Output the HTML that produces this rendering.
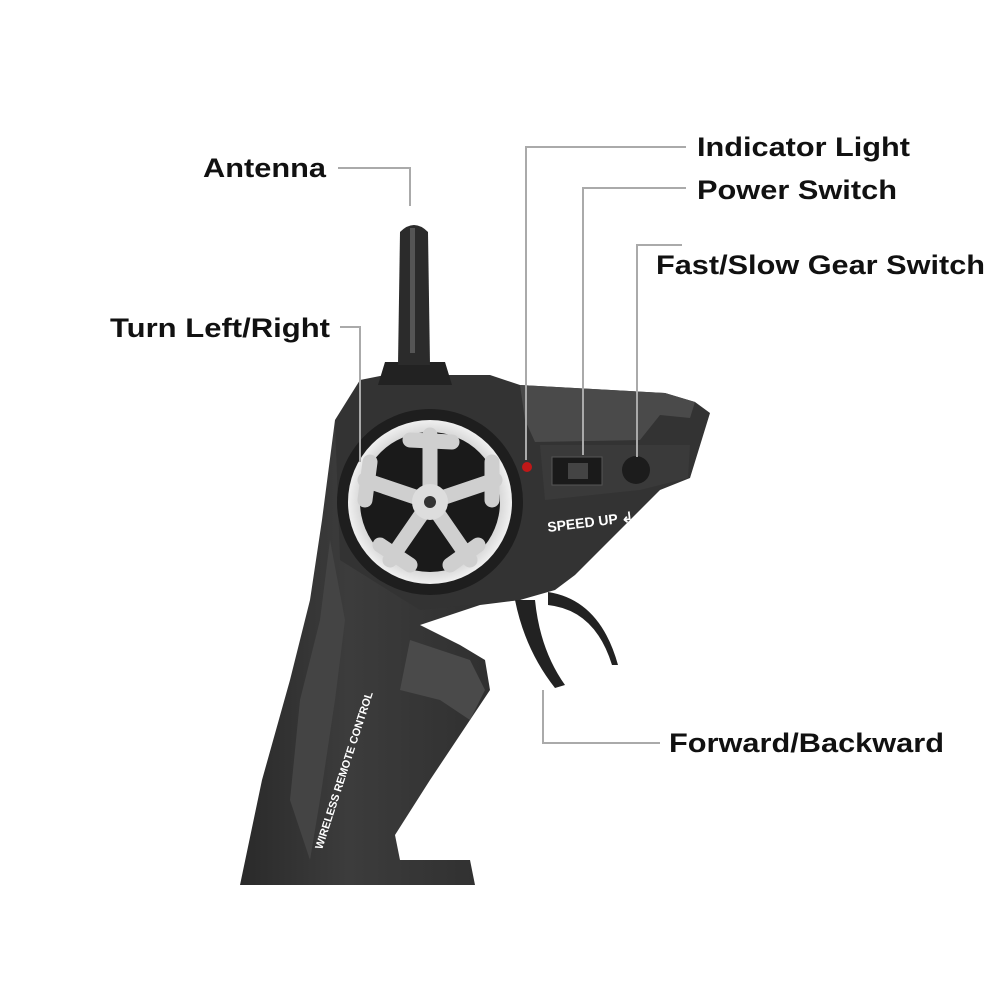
<!DOCTYPE html>
<html><head><style>html,body{margin:0;padding:0;background:#fff;width:1000px;height:1000px;overflow:hidden}</style></head>
<body>
<svg width="1000" height="1000" viewBox="0 0 1000 1000" xmlns="http://www.w3.org/2000/svg">
<defs>
<linearGradient id="g1" x1="0" y1="0" x2="1" y2="0">
<stop offset="0" stop-color="#2a2a2a"/><stop offset="0.3" stop-color="#3c3c3c"/><stop offset="1" stop-color="#262626"/>
</linearGradient>
<radialGradient id="rim" cx="0.5" cy="0.5" r="0.5">
<stop offset="0.85" stop-color="#d8d8d8"/><stop offset="1" stop-color="#f0f0f0"/>
</radialGradient>
</defs>
<!-- grip -->
<path d="M335,420 L322,520 L310,600 L290,680 L262,780 L240,885 L475,885 L470,860 L400,860 L395,835 L430,780 L470,720 L490,690 L485,660 L460,645 L420,625 L480,605 L520,600 L545,585 L560,560 L600,495 L335,420 Z" fill="url(#g1)"/>
<!-- top body -->
<path d="M335,420 L360,380 L385,375 L490,375 L520,385 L665,393 L695,402 L710,413 L690,478 L660,490 L645,505 L600,550 L575,575 L555,590 L520,600 L420,610 L340,560 Z" fill="#333"/>
<path d="M520,385 L665,393 L695,402 L690,418 L660,415 L640,440 L535,442 L525,420 Z" fill="#4a4a4a"/>
<path d="M540,445 L690,445 L688,478 L640,490 L545,500 Z" fill="#3a3a3a"/>
<!-- grip highlight -->
<path d="M410,640 L470,660 L485,690 L470,720 L440,700 L400,690 Z" fill="#4a4a4a"/>
<path d="M330,540 L320,620 L300,700 L290,800 L310,860 L320,800 L335,700 L345,620 Z" fill="#444"/>
<!-- antenna -->
<path d="M378,385 L385,362 L445,362 L452,385 Z" fill="#222"/>
<path d="M398,365 L400,232 Q414,218 428,232 L430,365 Z" fill="#2b2b2b"/>
<rect x="410" y="228" width="5" height="125" fill="#555"/>
<!-- wheel -->
<circle cx="430" cy="502" r="93" fill="#1e1e1e"/>
<circle cx="430" cy="502" r="82" fill="url(#rim)"/>
<circle cx="430" cy="502" r="70" fill="#1a1a1a"/>
<g stroke="#cfcfcf" stroke-width="15" stroke-linecap="round" fill="none">
<path d="M430,502 L430,435"/><path d="M430,502 L495,480"/><path d="M430,502 L470,560"/><path d="M430,502 L390,560"/><path d="M430,502 L365,480"/>
<path d="M410,440 L452,442"/><path d="M492,462 L492,500"/><path d="M478,545 L450,565"/><path d="M410,565 L380,545"/><path d="M365,500 L370,462"/>
</g>
<circle cx="430" cy="502" r="18" fill="#ddd"/><circle cx="430" cy="502" r="6" fill="#333"/>
<!-- controls -->
<circle cx="527" cy="467" r="5" fill="#c01818"/>
<rect x="552" y="457" width="50" height="28" fill="#1a1a1a" stroke="#555"/>
<rect x="568" y="463" width="20" height="16" fill="#444"/>
<circle cx="636" cy="470" r="14" fill="#1c1c1c"/>
<text x="548" y="532" font-family="Liberation Sans, sans-serif" font-weight="bold" font-size="14" fill="#fff" transform="rotate(-7 548 532)">SPEED UP ↲</text>
<text x="0" y="0" font-family="Liberation Sans, sans-serif" font-weight="bold" font-size="11" fill="#fff" transform="translate(322,850) rotate(-72)">WIRELESS REMOTE CONTROL</text>
<!-- trigger -->
<path d="M515,600 Q525,650 555,688 L565,685 Q540,650 535,600 Z" fill="#222"/>
<path d="M548,592 Q600,600 618,665 L612,665 Q595,610 548,605 Z" fill="#222"/>
<!-- leader lines -->
<g stroke="#aaa" stroke-width="2" fill="none">
<path d="M338,168 L410,168 L410,206"/>
<path d="M686,147 L526,147 L526,460"/>
<path d="M686,188 L583,188 L583,455"/>
<path d="M682,245 L637,245 L637,457"/>
<path d="M340,327 L360,327 L360,462"/>
<path d="M660,743 L543,743 L543,690"/>
</g>
<g font-family="Liberation Sans, Arial, sans-serif" font-weight="bold" font-size="27" fill="#111">
<text x="203" y="177" textLength="123" lengthAdjust="spacingAndGlyphs">Antenna</text>
<text x="697" y="156" textLength="213" lengthAdjust="spacingAndGlyphs">Indicator Light</text>
<text x="697" y="199" textLength="200" lengthAdjust="spacingAndGlyphs">Power Switch</text>
<text x="656" y="274" textLength="329" lengthAdjust="spacingAndGlyphs">Fast/Slow Gear Switch</text>
<text x="110" y="337" textLength="220" lengthAdjust="spacingAndGlyphs">Turn Left/Right</text>
<text x="669" y="752" textLength="275" lengthAdjust="spacingAndGlyphs">Forward/Backward</text>
</g>
</svg>
</body></html>
